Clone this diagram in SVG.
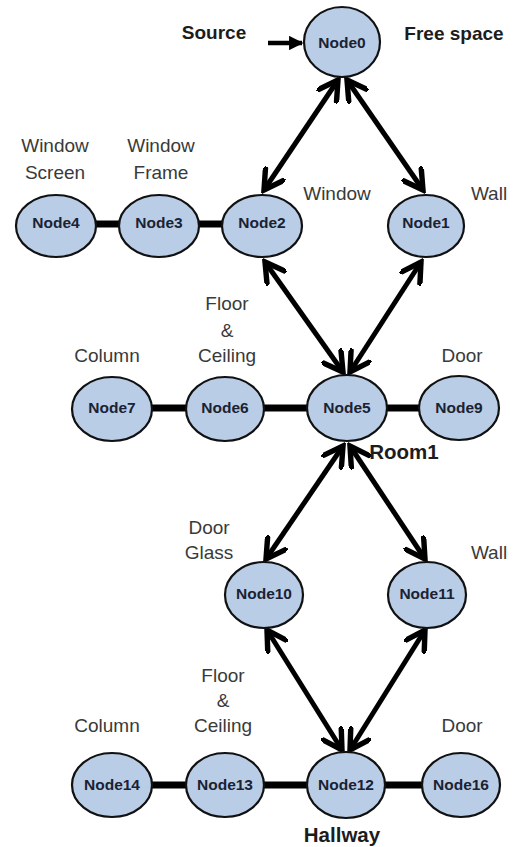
<svg xmlns="http://www.w3.org/2000/svg" width="518" height="847" viewBox="0 0 518 847">
  <style>
    .node ellipse { fill: #b9cde6; stroke: #111; stroke-width: 2.2; }
    .node text { font-family: "Liberation Sans", Arial, sans-serif; font-weight: bold; font-size: 15.5px; fill: #1a2233; text-anchor: middle; }
    .lbl { font-family: "Liberation Sans", Arial, sans-serif; font-size: 19px; fill: #3a3a3a; text-anchor: middle; }
    .big { font-family: "Liberation Sans", Arial, sans-serif; font-weight: bold; font-size: 19px; fill: #1c1c1c; text-anchor: middle; }
    .place { font-size: 20.5px; }
    .link { stroke: #000; stroke-width: 7; fill: none; }
    .arr { stroke: #000; stroke-width: 5; fill: none; marker-start: url(#open); marker-end: url(#open); }
  </style>
  <defs>
    <marker id="open" viewBox="0 0 12 12" refX="10" refY="6" markerWidth="5" markerHeight="5" orient="auto-start-reverse" markerUnits="strokeWidth">
      <path d="M1,0.8 L10,6 L1,11.2" fill="none" stroke="#000" stroke-width="2.6" stroke-linecap="round" stroke-linejoin="miter"/>
    </marker>
    <marker id="solid" viewBox="0 0 10 10" refX="9" refY="5" markerWidth="3.2" markerHeight="3.2" orient="auto">
      <path d="M0,0 L10,5 L0,10 Z" fill="#000"/>
    </marker>
  </defs>

  <!-- connectors -->
  <g id="connectors">
    <line class="link" x1="56" y1="224" x2="262" y2="224"/>
    <line class="link" x1="112" y1="408" x2="459" y2="408"/>
    <line class="link" x1="112" y1="785" x2="461" y2="785"/>
    <line x1="268" y1="43" x2="302" y2="43" stroke="#000" stroke-width="4.5" marker-end="url(#solid)"/>
    <line class="arr" x1="338" y1="80" x2="264" y2="190"/>
    <line class="arr" x1="347" y1="80" x2="423" y2="190"/>
    <line class="arr" x1="265" y1="262" x2="343" y2="372"/>
    <line class="arr" x1="421" y1="262" x2="350" y2="372"/>
    <line class="arr" x1="343" y1="446" x2="266" y2="559"/>
    <line class="arr" x1="350" y1="446" x2="425" y2="559"/>
    <line class="arr" x1="267" y1="630" x2="342" y2="750"/>
    <line class="arr" x1="425" y1="630" x2="350" y2="750"/>
  </g>

  <!-- nodes -->
  <g id="node0" class="node"><ellipse cx="342" cy="42" rx="38" ry="35"/><text x="342" y="48">Node0</text></g>
  <g id="node4" class="node"><ellipse cx="56" cy="226" rx="40" ry="31"/><text x="56" y="228">Node4</text></g>
  <g id="node3" class="node"><ellipse cx="159" cy="226" rx="40" ry="31"/><text x="159" y="228">Node3</text></g>
  <g id="node2" class="node"><ellipse cx="262" cy="226" rx="40" ry="31"/><text x="262" y="228">Node2</text></g>
  <g id="node1" class="node"><ellipse cx="426" cy="226" rx="38" ry="31"/><text x="426" y="228">Node1</text></g>
  <g id="node7" class="node"><ellipse cx="112" cy="409" rx="40" ry="32"/><text x="112" y="413">Node7</text></g>
  <g id="node6" class="node"><ellipse cx="225" cy="409" rx="39" ry="32"/><text x="225" y="413">Node6</text></g>
  <g id="node5" class="node"><ellipse cx="347" cy="408" rx="40" ry="33"/><text x="347" y="413">Node5</text></g>
  <g id="node9" class="node"><ellipse cx="459" cy="408" rx="40" ry="32"/><text x="459" y="413">Node9</text></g>
  <g id="node10" class="node"><ellipse cx="264" cy="595" rx="39" ry="33"/><text x="264" y="599">Node10</text></g>
  <g id="node11" class="node"><ellipse cx="427" cy="595" rx="39" ry="33"/><text x="427" y="599">Node11</text></g>
  <g id="node14" class="node"><ellipse cx="112" cy="785" rx="40" ry="32"/><text x="112" y="790">Node14</text></g>
  <g id="node13" class="node"><ellipse cx="225" cy="785" rx="39" ry="32"/><text x="225" y="790">Node13</text></g>
  <g id="node12" class="node"><ellipse cx="346" cy="785" rx="39" ry="33"/><text x="346" y="790">Node12</text></g>
  <g id="node16" class="node"><ellipse cx="461" cy="785" rx="39" ry="32"/><text x="461" y="790">Node16</text></g>

  <!-- labels -->
  <g id="labels">
    <text class="big" x="214" y="39">Source</text>
    <text class="big" x="454" y="40">Free space</text>
    <text class="lbl" x="55" y="152">Window</text>
    <text class="lbl" x="55" y="179">Screen</text>
    <text class="lbl" x="161" y="152">Window</text>
    <text class="lbl" x="161" y="179">Frame</text>
    <text class="lbl" x="337" y="200">Window</text>
    <text class="lbl" x="489" y="200">Wall</text>
    <text class="lbl" x="227" y="310">Floor</text>
    <text class="lbl" x="227" y="337">&amp;</text>
    <text class="lbl" x="227" y="362">Ceiling</text>
    <text class="lbl" x="107" y="362">Column</text>
    <text class="lbl" x="462" y="362">Door</text>
    <text class="big place" x="404" y="459">Room1</text>
    <text class="lbl" x="209" y="534">Door</text>
    <text class="lbl" x="209" y="559">Glass</text>
    <text class="lbl" x="489" y="559">Wall</text>
    <text class="lbl" x="223" y="682">Floor</text>
    <text class="lbl" x="223" y="707">&amp;</text>
    <text class="lbl" x="223" y="732">Ceiling</text>
    <text class="lbl" x="107" y="732">Column</text>
    <text class="lbl" x="462" y="732">Door</text>
    <text class="big place" x="342" y="842">Hallway</text>
  </g>
</svg>
